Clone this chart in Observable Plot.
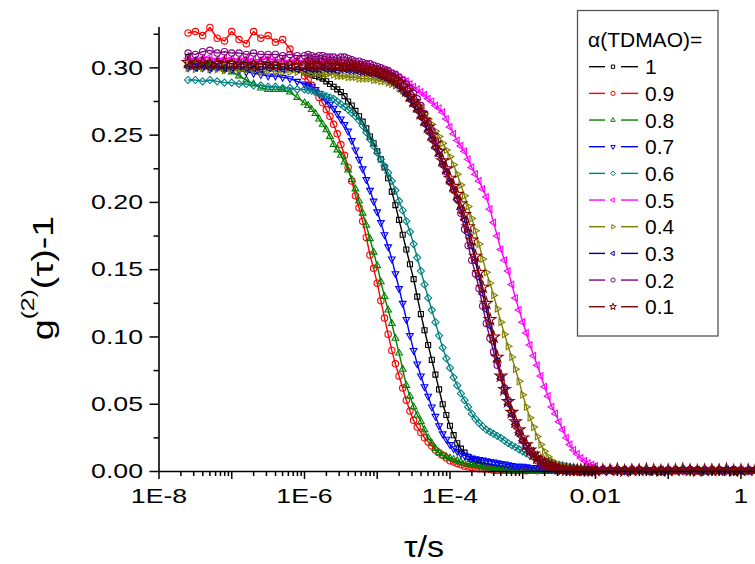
<!DOCTYPE html>
<html><head><meta charset="utf-8">
<script src="https://cdn.jsdelivr.net/npm/d3@7"></script>
<script src="https://cdn.jsdelivr.net/npm/@observablehq/plot@0.6"></script>
<style>
html,body{margin:0;padding:0;background:#fff;}
#chart{width:755px;height:564px;overflow:hidden;}
</style></head><body><div id="chart"></div>
<script>
// lag times (s), one channel every 0.1 decade
const tau = [2.512e-8,3.162e-8,3.981e-8,5.012e-8,6.310e-8,7.943e-8,
 1e-7,1.259e-7,1.585e-7,1.995e-7,2.512e-7,3.162e-7,3.981e-7,5.012e-7,6.310e-7,7.943e-7,
 1e-6,1.259e-6,1.585e-6,1.995e-6,2.512e-6,3.162e-6,3.981e-6,5.012e-6,6.310e-6,7.943e-6,
 1e-5,1.259e-5,1.585e-5,1.995e-5,2.512e-5,3.162e-5,3.981e-5,5.012e-5,6.310e-5,7.943e-5,
 1e-4,1.259e-4,1.585e-4,1.995e-4,2.512e-4,3.162e-4,3.981e-4,5.012e-4,6.310e-4,7.943e-4,
 1e-3,1.259e-3,1.585e-3,1.995e-3,2.512e-3,3.162e-3,3.981e-3,5.012e-3,6.310e-3,7.943e-3,
 1e-2,1.259e-2,1.585e-2,1.995e-2,2.512e-2,3.162e-2,3.981e-2,5.012e-2,6.310e-2,7.943e-2,
 0.1,0.1259,0.1585,0.1995,0.2512,0.3162,0.3981,0.5012,0.6310,0.7943,
 1,1.259,1.585];
// extra channels in the decay region (half-way between the above)
const tauHalf = [1.122e-6,1.413e-6,1.778e-6,2.239e-6,2.818e-6,3.548e-6,4.467e-6,5.623e-6,7.079e-6,8.913e-6,
 1.122e-5,1.413e-5,1.778e-5,2.239e-5,2.818e-5,3.548e-5,4.467e-5,5.623e-5,7.079e-5,8.913e-5,
 1.122e-4,1.413e-4,1.778e-4,2.239e-4,2.818e-4,3.548e-4,4.467e-4,5.623e-4,7.079e-4,8.913e-4,
 1.122e-3,1.413e-3,1.778e-3,2.239e-3,2.818e-3,3.548e-3,4.467e-3,5.623e-3,7.079e-3,8.913e-3];

const seriesLabels = ["1","0.9","0.8","0.7","0.6","0.5","0.4","0.3","0.2","0.1"];
const seriesColors = ["#000000","#ff0000","#008000","#0000ff","#008080","#ff00ff","#808000","#000080","#800080","#800000"];
const seriesSymbols = ["square2","circle","triangle2","triangle2","diamond2","triangle2","triangle2","triangle2","circle","star"];
const seriesRotate = [0,0,0,180,0,-90,90,-90,0,0];

const g_10 = [0.308,0.305,0.306,0.304,0.305,0.304,0.305,0.304,0.304,0.303,0.303,0.302,0.302,0.301,0.300,0.299,0.297,
 0.295,0.293,0.290,0.286,0.282,0.275,0.268,0.260,0.249,0.238,
 0.226,0.208,0.187,0.165,0.143,0.117,0.094,0.072,0.050,0.034,
 0.021,0.014,0.009,0.006,0.004,0.003,0.002,0.0015,0.001,0.001,
 0.001,0.001,0.0005,0.001,0.001,0.0005,0.001,0.001,0.0005,0.001,
 0.001,0.0005,0.001,0.001,0.0005,0.001,0.001,0.0005,0.001,0.001,0.0005,0.001,0.001,0.0005,0.001,0.001,0.0005,0.001,0.001,0.0005,0.001,0.001];
const h_10 = [0.296,0.294,0.292,0.288,0.284,0.279,0.272,0.264,0.255,0.244,
 0.232,0.218,0.198,0.176,0.154,0.130,0.105,0.083,0.061,0.042,
 0.027,0.017,0.011,0.0075,0.005,0.0035,0.0025,0.002,0.001,0.001,
 0.0005,0.001,0.001,0.0005,0.001,0.001,0.0005,0.001,0.001,0.0005];
const g_09 = [0.326,0.327,0.324,0.330,0.322,0.320,0.327,0.321,0.318,0.327,0.322,0.324,0.319,0.321,0.314,0.303,0.294,
 0.287,0.278,0.269,0.258,0.243,0.226,0.205,0.186,0.161,0.140,
 0.114,0.090,0.071,0.053,0.038,0.029,0.022,0.016,0.012,0.008,
 0.006,0.004,0.003,0.002,0.002,0.001,0.001,0.001,0.0005,0.001,
 0.001,0.0005,0.001,0.001,0.0015,0.001,0.0005,0.001,0.001,0.0005,
 0.001,0.001,0.0015,0.0005,0.001,0.001,0.0005,0.001,0.0015,0.001,0.0005,0.001,0.001,0.0005,0.001,0.0015,0.001,0.0005,0.001,0.001,0.0005,0.001];
const h_09 = [0.291,0.283,0.274,0.264,0.251,0.235,0.216,0.196,0.174,0.151,
 0.127,0.102,0.080,0.062,0.045,0.033,0.025,0.019,0.014,0.010,
 0.007,0.005,0.0035,0.0025,0.002,0.0015,0.001,0.001,0.001,0.001,
 0.0005,0.001,0.001,0.001,0.001,0.001,0.001,0.001,0.0005,0.001];
const g_08 = [0.305,0.304,0.303,0.302,0.300,0.299,0.297,0.294,0.291,0.288,0.285,0.284,0.284,0.284,0.282,0.278,0.274,
 0.269,0.262,0.254,0.243,0.235,0.224,0.210,0.192,0.173,0.153,
 0.130,0.110,0.088,0.064,0.048,0.037,0.025,0.017,0.012,0.010,
 0.008,0.006,0.005,0.004,0.003,0.002,0.002,0.001,0.001,0.001,
 0.0005,0.001,0.001,0.0005,0.001,0.001,0.0005,0.001,0.001,0.001,
 0.0005,0.001,0.001,0.0015,0.001,0.0005,0.001,0.001,0.0005,0.001,0.001,0.0015,0.0005,0.001,0.001,0.0005,0.001,0.001,0.0005,0.001,0.001,0.0005];
const h_08 = [0.272,0.266,0.258,0.249,0.239,0.230,0.217,0.201,0.183,0.163,
 0.141,0.120,0.099,0.076,0.056,0.042,0.031,0.021,0.014,0.011,
 0.009,0.007,0.0055,0.0045,0.0035,0.0025,0.002,0.0015,0.001,0.001,
 0.001,0.0005,0.001,0.001,0.001,0.0005,0.001,0.001,0.001,0.001];
const g_07 = [0.300,0.301,0.300,0.299,0.300,0.299,0.299,0.298,0.297,0.296,0.295,0.294,0.294,0.293,0.292,0.290,0.288,
 0.286,0.281,0.276,0.270,0.262,0.253,0.239,0.225,0.209,0.193,
 0.176,0.158,0.136,0.113,0.090,0.071,0.056,0.041,0.028,0.020,
 0.015,0.012,0.010,0.009,0.008,0.007,0.006,0.005,0.004,0.004,
 0.003,0.003,0.002,0.002,0.001,0.001,0.001,0.001,0.0005,0.001,
 0.001,0.0015,0.001,0.0005,0.001,0.001,0.0015,0.001,0.0005,0.001,0.001,0.0005,0.001,0.0015,0.001,0.0005,0.001,0.001,0.0015,0.001,0.0005,0.001];
const h_07 = [0.287,0.284,0.279,0.273,0.266,0.258,0.246,0.232,0.217,0.201,
 0.185,0.167,0.147,0.125,0.101,0.080,0.063,0.048,0.034,0.024,
 0.017,0.013,0.011,0.0095,0.0085,0.0075,0.0065,0.0055,0.0045,0.004,
 0.0035,0.003,0.0025,0.002,0.0015,0.001,0.001,0.001,0.001,0.0005];
const g_06 = [0.291,0.291,0.290,0.291,0.290,0.289,0.289,0.288,0.288,0.287,0.287,0.286,0.286,0.285,0.285,0.284,0.284,
 0.283,0.281,0.279,0.277,0.273,0.269,0.264,0.257,0.247,0.237,
 0.227,0.216,0.201,0.186,0.169,0.149,0.129,0.111,0.092,0.077,
 0.064,0.053,0.043,0.036,0.031,0.028,0.025,0.021,0.018,0.015,
 0.012,0.010,0.008,0.006,0.005,0.004,0.003,0.002,0.002,0.001,
 0.001,0.0015,0.001,0.001,0.0005,0.001,0.0015,0.001,0.001,0.0005,0.001,0.001,0.0015,0.001,0.0005,0.001,0.001,0.0015,0.001,0.0005,0.001,0.001];
const h_06 = [0.2835,0.282,0.280,0.278,0.275,0.271,0.2665,0.261,0.252,0.242,
 0.232,0.222,0.209,0.194,0.178,0.159,0.139,0.120,0.101,0.084,
 0.070,0.058,0.048,0.039,0.0335,0.0295,0.0265,0.023,0.0195,0.0165,
 0.0135,0.011,0.009,0.007,0.0055,0.0045,0.0035,0.0025,0.002,0.0015];
const g_05 = [0.307,0.306,0.307,0.308,0.306,0.307,0.307,0.306,0.307,0.306,0.306,0.307,0.306,0.306,0.305,0.306,0.305,
 0.305,0.305,0.305,0.304,0.304,0.303,0.302,0.301,0.300,0.299,
 0.298,0.296,0.293,0.290,0.286,0.282,0.277,0.272,0.267,0.256,
 0.246,0.238,0.226,0.216,0.204,0.185,0.165,0.149,0.129,0.111,
 0.094,0.079,0.063,0.048,0.037,0.025,0.016,0.010,0.006,0.004,
 0.002,0.002,0.001,0.0015,0.001,0.001,0.0005,0.001,0.0015,0.001,0.001,0.0005,0.001,0.0015,0.001,0.001,0.0005,0.001,0.001,0.0015,0.001,0.001];
const h_05 = [0.306,0.305,0.304,0.305,0.304,0.303,0.303,0.301,0.301,0.299,
 0.298,0.297,0.295,0.291,0.288,0.284,0.280,0.275,0.270,0.262,
 0.251,0.242,0.232,0.221,0.210,0.195,0.175,0.157,0.139,0.120,
 0.103,0.086,0.071,0.056,0.043,0.031,0.020,0.013,0.008,0.005];
const g_04 = [0.300,0.299,0.300,0.299,0.299,0.298,0.299,0.298,0.298,0.298,0.297,0.298,0.297,0.297,0.297,0.297,0.297,
 0.296,0.296,0.295,0.295,0.294,0.293,0.293,0.292,0.292,0.291,
 0.290,0.288,0.285,0.281,0.276,0.270,0.262,0.253,0.244,0.234,
 0.221,0.205,0.188,0.169,0.148,0.131,0.111,0.093,0.076,0.057,
 0.040,0.026,0.015,0.008,0.004,0.003,0.002,0.001,0.001,0.0005,
 0.001,0.001,0.0005,0.001,0.0015,0.001,0.001,0.0005,0.001,0.001,0.0015,0.001,0.0005,0.001,0.001,0.001,0.0015,0.0005,0.001,0.001,0.0005,0.001];
const h_04 = [0.297,0.296,0.295,0.296,0.294,0.294,0.293,0.292,0.292,0.291,
 0.290,0.289,0.287,0.283,0.279,0.273,0.266,0.258,0.249,0.239,
 0.228,0.213,0.197,0.179,0.158,0.140,0.121,0.102,0.085,0.067,
 0.048,0.033,0.020,0.011,0.006,0.0035,0.0025,0.0015,0.001,0.001];
const g_03 = [0.301,0.300,0.301,0.300,0.301,0.300,0.300,0.301,0.300,0.300,0.299,0.300,0.300,0.299,0.300,0.299,0.299,
 0.299,0.299,0.299,0.299,0.299,0.298,0.298,0.297,0.296,0.295,
 0.293,0.290,0.286,0.280,0.272,0.263,0.253,0.241,0.228,0.215,
 0.202,0.187,0.167,0.144,0.120,0.096,0.069,0.050,0.035,0.023,
 0.015,0.009,0.005,0.003,0.002,0.001,0.001,0.0005,0.001,0.001,
 0.001,0.0005,0.001,0.001,0.0015,0.001,0.0005,0.001,0.001,0.0005,0.001,0.0015,0.001,0.001,0.0005,0.001,0.001,0.0015,0.001,0.0005,0.001,0.001];
const h_03 = [0.300,0.299,0.300,0.299,0.298,0.299,0.298,0.297,0.297,0.296,
 0.294,0.292,0.288,0.283,0.276,0.268,0.258,0.247,0.235,0.222,
 0.209,0.195,0.177,0.156,0.132,0.108,0.082,0.059,0.042,0.029,
 0.019,0.012,0.007,0.004,0.0025,0.0015,0.001,0.001,0.001,0.0005];
const g_02 = [0.311,0.310,0.312,0.313,0.311,0.312,0.311,0.311,0.310,0.311,0.310,0.310,0.310,0.309,0.310,0.309,0.309,
 0.309,0.309,0.308,0.308,0.308,0.307,0.305,0.304,0.303,0.301,
 0.299,0.296,0.293,0.288,0.281,0.272,0.259,0.246,0.230,0.216,
 0.203,0.180,0.157,0.136,0.110,0.089,0.070,0.053,0.036,0.023,
 0.015,0.008,0.004,0.003,0.002,0.001,0.001,0.0005,0.001,0.001,
 0.0015,0.001,0.0005,0.001,0.001,0.0015,0.001,0.0005,0.001,0.001,0.001,0.0005,0.0015,0.001,0.001,0.0005,0.001,0.001,0.0015,0.001,0.0005,0.001];
const h_02 = [0.310,0.308,0.309,0.308,0.307,0.308,0.306,0.305,0.303,0.302,
 0.300,0.298,0.295,0.291,0.285,0.277,0.266,0.253,0.238,0.223,
 0.210,0.192,0.168,0.147,0.123,0.099,0.079,0.062,0.044,0.029,
 0.019,0.011,0.006,0.0035,0.0025,0.0015,0.001,0.001,0.0005,0.001];
const g_01 = [0.304,0.303,0.304,0.303,0.303,0.304,0.303,0.303,0.303,0.302,0.303,0.303,0.302,0.303,0.302,0.303,0.302,
 0.303,0.302,0.302,0.302,0.302,0.302,0.301,0.300,0.298,0.297,
 0.295,0.292,0.289,0.283,0.275,0.266,0.256,0.244,0.231,0.218,
 0.206,0.191,0.172,0.148,0.125,0.100,0.071,0.052,0.037,0.025,
 0.016,0.010,0.006,0.004,0.002,0.001,0.001,0.001,0.0005,0.001,
 0.001,0.001,0.0015,0.0005,0.001,0.001,0.0015,0.001,0.0005,0.001,0.001,0.0015,0.001,0.0005,0.001,0.001,0.001,0.0015,0.0005,0.001,0.001,0.0015];
const h_01 = [0.303,0.302,0.303,0.302,0.302,0.301,0.302,0.300,0.299,0.298,
 0.296,0.294,0.291,0.286,0.279,0.271,0.261,0.250,0.238,0.225,
 0.212,0.199,0.182,0.160,0.137,0.113,0.085,0.061,0.044,0.031,
 0.020,0.013,0.008,0.005,0.003,0.0015,0.001,0.001,0.001,0.0005];
const seriesValues = [g_10,g_09,g_08,g_07,g_06,g_05,g_04,g_03,g_02,g_01];
const seriesHalf = [h_10,h_09,h_08,h_07,h_06,h_05,h_04,h_03,h_02,h_01];

// axis ticks
const yMajor = [0,0.05,0.10,0.15,0.20,0.25,0.30];
const yMinor = [0.025,0.075,0.125,0.175,0.225,0.275,0.325];
const xDecades = [1e-8,1e-7,1e-6,1e-5,1e-4,1e-3,1e-2,1e-1,1];
const xLabelTicks = [1e-8,1e-6,1e-4,1e-2,1];
const xLabelTexts = ["1E-8","1E-6","1E-4","0.01","1"];
const xMantissas = [2,3,4,5,6,7,8,9];
const xMinor = [];
for (const d of xDecades.slice(0, -1)) for (const m of xMantissas) xMinor.push(m * d);
const xLabelMap = new Map(xLabelTicks.map((t, i) => [t, xLabelTexts[i]]));

const legendTitle = "α(TDMAO)=";

const marks = [];
seriesLabels.forEach((lab, k) => {
  const rows = tau.map((t, i) => ({tau: t, g: seriesValues[k][i]}))
    .concat(tauHalf.map((t, i) => ({tau: t, g: seriesHalf[k][i]})))
    .sort((a, b) => a.tau - b.tau);
  marks.push(Plot.line(rows, {x: "tau", y: "g", stroke: seriesColors[k], strokeWidth: 1.4}));
  marks.push(Plot.dot(rows, {x: "tau", y: "g", stroke: seriesColors[k], fill: "none",
    symbol: seriesSymbols[k], rotate: seriesRotate[k], r: seriesSymbols[k] === "star" ? 3.7 : 3.2, strokeWidth: 1.1}));
});

const plot = Plot.plot({
  width: 755, height: 564,
  marginLeft: 158.5, marginRight: 0, marginTop: 27, marginBottom: 93,
  x: {type: "log", domain: [1e-8, 1.585]},
  y: {domain: [0, 0.33]},
  style: {fontFamily: "'Liberation Sans', Arial, sans-serif", fontSize: "21px", color: "#000", background: "#fff", overflow: "visible"},
  marks: [
    ...marks,
    Plot.ruleX([1e-8], {y1: 0, y2: 0.33, stroke: "#000", strokeWidth: 1.6}),
    Plot.ruleY([0], {x1: 1e-8, x2: 1.585, stroke: "#000", strokeWidth: 1.6}),
    Plot.axisY(yMajor, {tickSize: 9, tickPadding: 7, tickFormat: d => d.toFixed(2), strokeWidth: 1.5, label: null}),
    Plot.axisY(yMinor, {tickSize: 5, tickFormat: () => "", strokeWidth: 1.5, label: null}),
    Plot.axisX(xDecades, {tickSize: 8, tickPadding: 9, tickFormat: d => xLabelMap.get(d) ?? "", strokeWidth: 1.5, label: null}),
    Plot.axisX(xMinor, {tickSize: 5, tickFormat: () => "", strokeWidth: 1.5, label: null})
  ]
});
document.getElementById("chart").appendChild(plot);

const svg = d3.select(plot);
const font = "'Liberation Sans', Arial, sans-serif";

// the reference's tick labels are horizontally wider than plain Arial
svg.selectAll('g[aria-label="y-axis tick label"] text, g[aria-label="x-axis tick label"] text').each(function() {
  if (!this.textContent) return;
  const w = this.getComputedTextLength();
  if (w > 0) { this.setAttribute("textLength", (w * 1.27).toFixed(1)); this.setAttribute("lengthAdjust", "spacingAndGlyphs"); }
});

// x title
svg.append("text").attr("transform", "translate(424,557) scale(1.18,1)").attr("text-anchor", "middle")
  .attr("font-family", font).attr("font-size", 29).attr("fill", "#000").text("τ/s");
// y title with superscript
const yt = svg.append("text").attr("transform", "translate(53,278) rotate(-90) scale(1.3,1)")
  .attr("text-anchor", "middle").attr("font-family", font).attr("font-size", 29).attr("fill", "#000");
yt.append("tspan").text("g");
yt.append("tspan").attr("font-size", 19).attr("dy", -19).text("(2)");
yt.append("tspan").attr("dy", 19).text("(τ)-1");

// legend
const lg = svg.append("g").attr("text-anchor", "start");
lg.append("rect").attr("x", 577.5).attr("y", 10.5).attr("width", 140.5).attr("height", 325.5)
  .attr("fill", "#fff").attr("stroke", "#555").attr("stroke-width", 1.3);
lg.append("text").attr("x", 588).attr("y", 47).attr("text-anchor", "start").attr("font-family", font).attr("font-size", 21)
  .attr("fill", "#000").text(legendTitle);
const symMap = {square2: d3.symbolSquare2, circle: d3.symbolCircle, triangle2: d3.symbolTriangle2, diamond2: d3.symbolDiamond2, star: d3.symbolStar};
seriesLabels.forEach((lab, k) => {
  const cy = 66.7 + 26.67 * k;
  const c = seriesColors[k];
  lg.append("line").attr("x1", 589).attr("x2", 605).attr("y1", cy).attr("y2", cy).attr("stroke", c).attr("stroke-width", 1.4);
  lg.append("line").attr("x1", 621).attr("x2", 638).attr("y1", cy).attr("y2", cy).attr("stroke", c).attr("stroke-width", 1.4);
  lg.append("path").attr("d", d3.symbol(symMap[seriesSymbols[k]], 14)())
    .attr("transform", `translate(613,${cy}) rotate(${seriesRotate[k]})`)
    .attr("fill", "none").attr("stroke", c).attr("stroke-width", 1);
  lg.append("text").attr("x", 645).attr("y", cy + 7.5).attr("text-anchor", "start").attr("font-family", font).attr("font-size", 21)
    .attr("fill", "#000").text(lab);
});
</script></body></html>
